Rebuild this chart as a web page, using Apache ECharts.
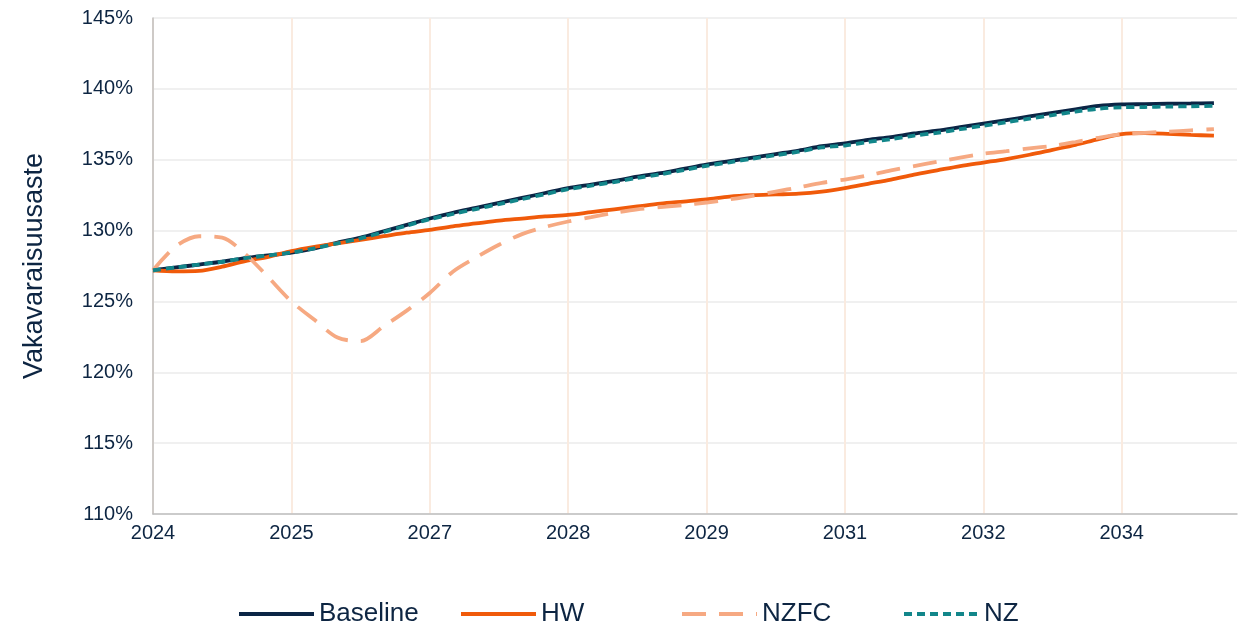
<!DOCTYPE html>
<html>
<head>
<meta charset="utf-8">
<script src="https://cdn.jsdelivr.net/npm/echarts@6/dist/echarts.min.js"></script>
<style>
  html, body { margin: 0; padding: 0; background: #fff; }
  #chart { width: 1247px; height: 624px; }
</style>
</head>
<body>
<div id="chart"></div>
<script>
// year labels shown on every 6th point
const yearLabels = ['2024', '2025', '2027', '2028', '2029', '2031', '2032', '2034']
const seriesNames = ['Baseline', 'HW', 'NZFC', 'NZ']

const baseline = [
  127.2, 127.4, 127.6, 127.8, 128.05, 128.25, 128.45, 128.75, 129.15, 129.5, 129.95, 130.4,
  130.85, 131.25, 131.6, 131.95, 132.3, 132.65, 133.0, 133.25, 133.5, 133.8, 134.05, 134.35,
  134.65, 134.9, 135.15, 135.4, 135.65, 135.95, 136.15, 136.4, 136.6, 136.85, 137.05, 137.3,
  137.55, 137.8, 138.05, 138.3, 138.55, 138.8, 138.9, 138.92, 138.95, 138.97, 139.0
]
const hw = [
  127.2, 127.12, 127.15, 127.45, 127.85, 128.15, 128.55, 128.85, 129.1, 129.35, 129.6, 129.85,
  130.05, 130.3, 130.5, 130.7, 130.85, 131.0, 131.1, 131.3, 131.5, 131.7, 131.9, 132.05,
  132.2, 132.4, 132.5, 132.55, 132.6, 132.75, 133.0, 133.3, 133.6, 133.95, 134.25, 134.55,
  134.8, 135.05, 135.35, 135.7, 136.05, 136.45, 136.8, 136.87, 136.82, 136.75, 136.7
]
const nzfc = [
  127.2, 128.9, 129.6, 129.5, 128.35, 126.7, 125.0, 123.7, 122.45, 122.2, 123.25, 124.35,
  125.6, 127.1, 128.1, 129.0, 129.75, 130.25, 130.64, 130.95, 131.25, 131.5, 131.65, 131.8,
  131.98, 132.2, 132.45, 132.75, 133.05, 133.37, 133.6, 133.9, 134.25, 134.55, 134.85, 135.15,
  135.42, 135.6, 135.8, 135.98, 136.25, 136.55, 136.8, 136.9, 136.98, 137.07, 137.16
]
const nz = [
  127.2, 127.4, 127.6, 127.8, 128.05, 128.25, 128.45, 128.75, 129.1, 129.45, 129.9, 130.35,
  130.8, 131.17, 131.52, 131.87, 132.22, 132.57, 132.92, 133.17, 133.42, 133.72, 133.97, 134.27,
  134.57, 134.82, 135.07, 135.32, 135.57, 135.87, 136.0, 136.25, 136.45, 136.7, 136.9, 137.15,
  137.4, 137.65, 137.9, 138.15, 138.4, 138.6, 138.7, 138.72, 138.75, 138.77, 138.8
]

// one category per point, plus one empty slot so the grid runs past the last point
const categories = []
for (let i = 0; i < 48; i++) {
  const y = yearLabels[Math.floor(i / 6)]
  categories.push(i % 6 === 0 ? y : y + '/' + (i % 6))
}

const textColor = '#0D2542'
const font = 'Arial, "Liberation Sans", sans-serif'

// Excel-like legend: fixed slots, one legend per entry
const legendLeft = [237, 459, 680, 902]
const legends = seriesNames.map((name, i) => ({
  left: legendLeft[i],
  top: 601,
  padding: 0,
  itemWidth: 75,
  itemHeight: 14,
  itemStyle: { opacity: 0 },
  lineStyle: { width: 4 },
  textStyle: { color: textColor, fontSize: 26, fontFamily: font },
  data: [name]
}))

const chart = echarts.init(document.getElementById('chart'))
chart.setOption({
  animation: false,
  grid: { left: 153, top: 18, right: 10, bottom: 110 },
  legend: legends,
  xAxis: {
    type: 'category',
    data: categories,
    boundaryGap: false,
    axisLine: { lineStyle: { color: '#BFBFBF', width: 1.5 } },
    axisTick: { show: false },
    axisLabel: {
      interval: 5,
      color: textColor,
      fontSize: 20,
      fontFamily: font,
      margin: 9
    },
    splitLine: { show: true, interval: 5, lineStyle: { color: '#FAEBE0', width: 2 } }
  },
  yAxis: {
    type: 'value',
    min: 110,
    max: 145,
    interval: 5,
    name: 'Vakavaraisuusaste',
    nameLocation: 'middle',
    nameGap: 105,
    nameTextStyle: { color: textColor, fontSize: 27, fontFamily: font },
    axisLine: { show: true, lineStyle: { color: '#BFBFBF', width: 1.5 } },
    axisTick: { show: false },
    axisLabel: { formatter: '{value}%', color: textColor, fontSize: 20, fontFamily: font, margin: 20 },
    splitLine: { lineStyle: { color: '#F0F0F0', width: 2 } }
  },
  series: [
    {
      name: 'Baseline',
      type: 'line',
      data: baseline,
      smooth: 0.3,
      symbol: 'none',
      lineStyle: { color: '#0B2545', width: 3.8 },
      itemStyle: { color: '#0B2545' }
    },
    {
      name: 'HW',
      type: 'line',
      data: hw,
      smooth: 0.3,
      symbol: 'none',
      lineStyle: { color: '#F05A0A', width: 3.8 },
      itemStyle: { color: '#F05A0A' }
    },
    {
      name: 'NZFC',
      type: 'line',
      data: nzfc,
      smooth: 0.3,
      symbol: 'none',
      lineStyle: { color: '#F6A982', width: 3.8, type: [24, 13] },
      itemStyle: { color: '#F6A982' }
    },
    {
      name: 'NZ',
      type: 'line',
      data: nz,
      smooth: 0.3,
      symbol: 'none',
      lineStyle: { color: '#12868A', width: 3.8, type: [8, 5] },
      itemStyle: { color: '#12868A' }
    }
  ]
})
</script>
</body>
</html>
